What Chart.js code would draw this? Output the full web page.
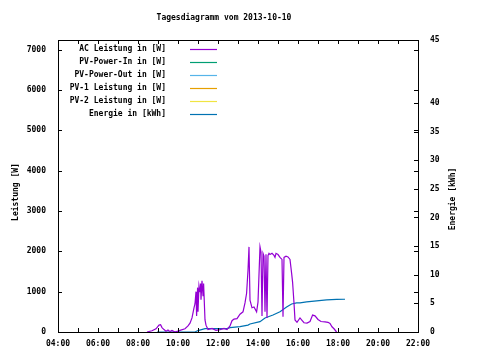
<!DOCTYPE html>
<html lang="de">
<head>
<meta charset="UTF-8">
<title>Tagesdiagramm vom 2013-10-10</title>
<script src="https://cdn.jsdelivr.net/npm/chart.js"></script>
<style>
  body { margin: 0; background: #fff; }
  #chart { display: block; }
</style>
</head>
<body>
<canvas id="chart" width="480" height="360"></canvas>
<script>
const chartTitle = 'Tagesdiagramm vom 2013-10-10';
const leftTitle = 'Leistung [W]';
const rightTitle = 'Energie [kWh]';

// x axis: hours of the day
const hourTicks = [4, 5, 6, 7, 8, 9, 10, 11, 12, 13, 14, 15, 16, 17, 18, 19, 20, 21, 22];
const hourLabels = ['04:00', '', '06:00', '', '08:00', '', '10:00', '', '12:00', '', '14:00', '', '16:00', '', '18:00', '', '20:00', '', '22:00'];

// left axis (W)
const powerTicks = [0, 1000, 2000, 3000, 4000, 5000, 6000, 7000];
const powerLabels = ['0', '1000', '2000', '3000', '4000', '5000', '6000', '7000'];
// right axis (kWh) - top label sits at the frame edge like the original
const energyTicks = [0, 5, 10, 15, 20, 25, 30, 35, 40, 51];
const energyLabels = ['0', '5', '10', '15', '20', '25', '30', '35', '40', '45'];

const seriesLabels = ['AC Leistung in [W]', 'PV-Power-In in [W]', 'PV-Power-Out in [W]', 'PV-1 Leistung in [W]', 'PV-2 Leistung in [W]', 'Energie in [kWh]'];
const seriesColors = ['#9400d3', '#009e73', '#56b4e9', '#e69f00', '#f0e442', '#0072b2'];

// AC Leistung
const acTime = [8.45, 8.7, 8.9, 9.05, 9.13, 9.2, 9.3, 9.4, 9.5, 9.6, 9.7, 9.85, 10.0, 10.1, 10.35, 10.5, 10.6, 10.7, 10.8, 10.85,
  10.9, 10.93, 10.98, 11.0, 11.05, 11.1, 11.13, 11.15, 11.2, 11.25, 11.28, 11.35, 11.4, 11.5, 11.7, 11.9, 12.1, 12.3, 12.45,
  12.6, 12.7, 12.8, 12.95, 13.1, 13.25, 13.35, 13.43, 13.5, 13.55, 13.6, 13.7, 13.8, 13.93, 14.0, 14.1, 14.15, 14.2, 14.25,
  14.3, 14.35, 14.4, 14.45, 14.5, 14.55, 14.6, 14.7, 14.8, 14.85, 14.9, 15.0, 15.1, 15.2, 15.25, 15.3, 15.4, 15.5, 15.6,
  15.68, 15.73, 15.8, 15.85, 15.95, 16.1, 16.2, 16.3, 16.45, 16.6, 16.73, 16.85, 17.0, 17.15, 17.35, 17.5, 17.6, 17.7, 17.8, 17.93];
const acPower = [0, 30, 80, 170, 180, 110, 60, 20, 50, 10, 40, 0, 20, 40, 80, 150, 220, 350, 600, 700,
  1000, 400, 1100, 500, 1150, 1000, 1200, 800, 1270, 900, 1200, 300, 170, 60, 90, 40, 60, 90, 60,
  150, 280, 320, 330, 440, 500, 720, 960, 1530, 2110, 790, 600, 620, 500, 740, 2110, 1980, 400, 1950,
  1880, 500, 1930, 350, 1900, 1950, 1920, 1950, 1900, 1850, 1950, 1920, 1850, 1800, 380, 1850, 1880, 1860, 1800,
  1460, 1230, 720, 300, 240, 350, 290, 230, 220, 260, 420, 400, 310, 260, 250, 240, 210, 130, 80, 0];

// Energie
const energyTime = [8.95, 10.85, 11.0, 11.35, 12.45, 12.6, 13.1, 13.5, 13.6, 14.1, 14.35, 14.75, 15.1, 15.43, 15.68, 15.93, 16.1, 16.43, 16.93, 17.43, 17.93, 18.35];
const energyKWh = [0, 0, 0.25, 0.58, 0.58, 0.75, 0.93, 1.2, 1.4, 1.8, 2.45, 2.97, 3.55, 4.37, 4.9, 5.07, 5.1, 5.25, 5.45, 5.6, 5.7, 5.72];

const FONT = 'DejaVu Sans Mono';
const pts = (xs, ys) => xs.map((x, i) => ({ x: x, y: ys[i] }));

const datasets = seriesLabels.map((label, i) => ({
  label: label,
  data: [],
  borderColor: seriesColors[i],
  backgroundColor: seriesColors[i],
  borderWidth: 1.2,
  pointRadius: 0,
  tension: 0,
  clip: 3,
  yAxisID: 'y'
}));
datasets[0].data = pts(acTime, acPower);
datasets[5].data = pts(energyTime, energyKWh);
datasets[5].yAxisID = 'y2';

// frame, inward ticks, titles, legend (gnuplot style)
const decor = {
  id: 'decor',
  afterDraw(chart) {
    const ctx = chart.ctx;
    const a = chart.chartArea;
    const sx = chart.scales.x, sy = chart.scales.y, sy2 = chart.scales.y2;
    ctx.save();
    ctx.strokeStyle = '#000';
    ctx.lineWidth = 1;
    ctx.strokeRect(Math.round(a.left) + 0.5, Math.round(a.top) + 0.5, Math.round(a.right - a.left), Math.round(a.bottom - a.top));
    ctx.beginPath();
    const L = 4;
    hourTicks.forEach(h => {
      const px = Math.round(sx.getPixelForValue(h)) + 0.5;
      ctx.moveTo(px, a.bottom); ctx.lineTo(px, a.bottom - L);
      ctx.moveTo(px, a.top); ctx.lineTo(px, a.top + L);
    });
    powerTicks.forEach(v => {
      const py = Math.round(sy.getPixelForValue(v)) + 0.5;
      ctx.moveTo(a.left, py); ctx.lineTo(a.left + L, py);
      ctx.moveTo(a.right, py); ctx.lineTo(a.right - L, py);
    });
    energyTicks.forEach(v => {
      const py = Math.round(sy2.getPixelForValue(v)) + 0.5;
      ctx.moveTo(a.right, py); ctx.lineTo(a.right - L, py);
    });
    ctx.stroke();

    ctx.fillStyle = '#000';
    ctx.font = 'bold 8px "' + FONT + '"';
    ctx.textBaseline = 'middle';
    ctx.textAlign = 'center';
    ctx.fillText(chartTitle, 224, 18);

    ctx.save();
    ctx.translate(16, 192);
    ctx.rotate(-Math.PI / 2);
    ctx.fillText(leftTitle, 0, 0);
    ctx.restore();
    ctx.save();
    ctx.translate(453, 199);
    ctx.rotate(-Math.PI / 2);
    ctx.fillText(rightTitle, 0, 0);
    ctx.restore();

    // legend
    ctx.textAlign = 'right';
    chart.data.datasets.forEach((ds, i) => {
      const y = 49 + i * 12.95;
      ctx.fillStyle = '#000';
      ctx.fillText(ds.label, 166, y);
      ctx.strokeStyle = ds.borderColor;
      ctx.lineWidth = 1.2;
      ctx.beginPath();
      ctx.moveTo(190, Math.round(y) + 0.5);
      ctx.lineTo(217, Math.round(y) + 0.5);
      ctx.stroke();
    });
    ctx.restore();
  }
};

const tickFont = { family: FONT, size: 8, weight: 'bold' };
const noGrid = { display: false, drawTicks: false };

new Chart(document.getElementById('chart'), {
  type: 'line',
  data: { datasets: datasets },
  options: {
    responsive: false,
    animation: false,
    layout: { padding: { top: 40 } },
    plugins: {
      legend: { display: false },
      title: { display: false },
      tooltip: { enabled: false }
    },
    scales: {
      x: {
        type: 'linear',
        min: 4,
        max: 22,
        afterBuildTicks: s => { s.ticks = hourTicks.map(v => ({ value: v })); },
        afterFit: s => { s.height = 28; },
        ticks: {
          autoSkip: false,
          maxRotation: 0,
          padding: 7,
          color: '#000',
          font: tickFont,
          callback: (v, i) => hourLabels[i]
        },
        grid: noGrid,
        border: { display: false }
      },
      y: {
        position: 'left',
        min: 0,
        max: 7240,
        afterBuildTicks: s => { s.ticks = powerTicks.map(v => ({ value: v })); },
        afterFit: s => { s.width = 58; },
        ticks: { padding: 12, color: '#000', font: tickFont, callback: (v, i) => powerLabels[i] },
        grid: noGrid,
        border: { display: false }
      },
      y2: {
        position: 'right',
        min: 0,
        max: 51,
        afterBuildTicks: s => { s.ticks = energyTicks.map(v => ({ value: v })); },
        afterFit: s => { s.width = 62; },
        ticks: {
          padding: 12,
          color: '#000',
          font: tickFont,
          callback: (v, i) => energyLabels[i]
        },
        grid: noGrid,
        border: { display: false }
      }
    }
  },
  plugins: [decor]
});
</script>
</body>
</html>
